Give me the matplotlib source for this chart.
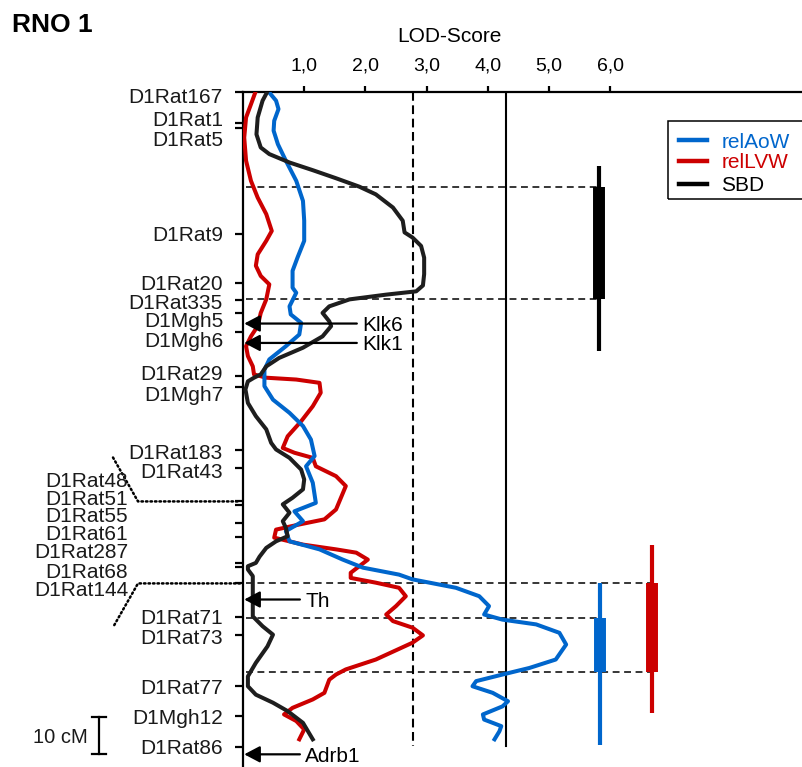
import matplotlib
matplotlib.use("Agg")
import matplotlib.pyplot as plt
import matplotlib.transforms as mtransforms
from matplotlib.patches import Rectangle
from matplotlib.lines import Line2D

plt.rcParams['font.family'] = ['Liberation Sans', 'DejaVu Sans']

# ---------------------------------------------------------------- data
# genetic map of RNO 1 (marker positions in cM)
markers = ["D1Rat167", "D1Rat1", "D1Rat5", "D1Rat9", "D1Rat20", "D1Rat335",
           "D1Mgh5", "D1Mgh6", "D1Rat29", "D1Mgh7", "D1Rat183", "D1Rat43",
           "D1Rat48", "D1Rat51", "D1Rat55", "D1Rat61", "D1Rat287", "D1Rat68",
           "D1Rat144", "D1Rat71", "D1Rat73", "D1Rat77", "D1Mgh12", "D1Rat86"]
marker_cM = [0.0, 8.5, 10.1, 38.9, 52.2, 57.1, 60.5, 65.7, 77.7, 80.8, 98.0,
             103.0, 112.0, 113.1, 118.0, 121.6, 128.7, 129.8, 134.4, 143.5,
             148.6, 162.3, 170.5, 179.2]

# candidate genes
genes = ["Klk6", "Klk1", "Th", "Adrb1"]
gene_cM = [63.4, 68.7, 138.8, 181.1]

# LOD profiles
sbd_cM = [0.3, 2.5, 7.1, 11.7, 15.3, 17.1, 19.4, 21.5, 23.7, 26.0, 28.1, 31.7,
          35.3, 38.5, 39.9, 42.2, 45.4, 49.9, 53.0, 54.6, 55.5, 56.8, 58.7,
          60.5, 62.8, 64.1, 66.9, 70.0, 72.8, 75.1, 77.3, 78.2, 79.2, 81.4,
          85.1, 88.7, 92.3, 96.0, 97.8, 100.1, 103.3, 106.0, 108.7, 111.0,
          112.8, 115.1, 117.4, 119.2, 121.5, 122.9, 124.7, 127.1, 128.8,
          129.7, 130.6, 132.4, 143.4, 146.1, 148.4, 151.6, 156.1, 159.8,
          162.5, 164.8, 167.0, 169.3, 172.5, 177.0]
sbd_lod = [0.39, 0.32, 0.24, 0.22, 0.29, 0.43, 0.76, 1.14, 1.52, 1.90, 2.17,
           2.45, 2.61, 2.64, 2.77, 2.91, 2.96, 2.96, 2.94, 2.83, 2.34, 1.74,
           1.41, 1.30, 1.41, 1.44, 1.30, 0.98, 0.59, 0.38, 0.29, 0.18, 0.08,
           0.04, 0.08, 0.21, 0.38, 0.46, 0.54, 0.76, 0.95, 1.00, 0.98, 0.81,
           0.65, 0.76, 0.65, 0.70, 0.73, 0.54, 0.38, 0.27, 0.21, 0.08, 0.08,
           0.16, 0.16, 0.32, 0.49, 0.40, 0.21, 0.08, 0.08, 0.21, 0.49, 0.73,
           0.98, 1.14]

aow_cM = [0.3, 2.5, 4.8, 8.0, 10.7, 14.4, 18.9, 24.4, 29.9, 35.3, 40.8, 45.4,
          49.0, 53.6, 55.0, 58.7, 60.9, 63.2, 66.4, 69.6, 73.2, 76.0, 80.5,
          84.2, 87.8, 91.4, 95.1, 99.6, 102.4, 106.9, 112.4, 114.7, 117.4,
          120.1, 122.9, 125.1, 127.9, 130.1, 132.0, 133.3, 135.6, 137.9,
          140.6, 142.9, 144.3, 145.6, 147.9, 151.1, 155.2, 157.5, 159.3,
          161.1, 162.5, 164.3, 166.6, 168.0, 170.2, 171.6, 173.4, 174.8, 177.0]
aow_lod = [0.43, 0.54, 0.58, 0.51, 0.50, 0.57, 0.70, 0.87, 0.98, 1.00, 1.00,
           0.89, 0.81, 0.81, 0.87, 0.76, 0.78, 0.95, 0.92, 0.70, 0.43, 0.35,
           0.35, 0.49, 0.76, 0.98, 1.11, 1.17, 1.03, 1.14, 1.19, 0.84, 0.98,
           0.70, 0.76, 1.25, 1.63, 1.96, 2.55, 2.77, 3.48, 3.86, 4.02, 3.94,
           4.24, 4.79, 5.17, 5.28, 5.11, 4.68, 4.24, 3.81, 3.75, 4.08, 4.33,
           4.24, 3.92, 3.94, 4.22, 4.19, 4.11]

lvw_cM = [0.3, 3.5, 7.1, 12.6, 18.9, 24.4, 29.0, 33.5, 38.1, 40.8, 44.5, 47.6,
          50.4, 52.7, 56.8, 60.5, 64.1, 66.9, 69.6, 72.3, 75.1, 77.3, 78.2,
          78.7, 79.6, 82.3, 86.0, 90.1, 94.2, 97.4, 98.7, 100.1, 102.4, 105.1,
          107.8, 111.0, 114.2, 116.9, 118.3, 119.7, 121.9, 123.8, 125.1,
          126.0, 127.9, 129.7, 131.5, 132.9, 134.2, 135.6, 137.9, 140.6,
          142.9, 144.7, 146.5, 148.6, 150.6, 155.2, 157.9, 159.3, 160.7,
          164.3, 166.1, 168.4, 170.2, 172.0, 174.3, 177.0]
lvw_lod = [0.20, 0.13, 0.05, 0.02, 0.05, 0.13, 0.24, 0.38, 0.47, 0.38, 0.24,
           0.21, 0.29, 0.43, 0.38, 0.29, 0.24, 0.13, 0.05, 0.08, 0.16, 0.18,
           0.38, 0.87, 1.25, 1.27, 1.14, 0.95, 0.73, 0.65, 0.84, 1.14, 1.19,
           1.52, 1.68, 1.60, 1.52, 1.33, 0.92, 0.54, 0.51, 0.98, 1.52, 1.85,
           2.04, 1.90, 1.76, 1.76, 2.17, 2.55, 2.66, 2.50, 2.34, 2.45, 2.77,
           2.94, 2.77, 2.17, 1.68, 1.52, 1.41, 1.33, 1.14, 0.81, 0.67, 0.87,
           1.00, 0.92]

# significance thresholds
lod_suggestive = 2.78
lod_significant = 4.29

# QTL confidence intervals (cM): outer (thin) and inner (thick)
sbd_outer, sbd_inner = (20.4, 71.0), (26.0, 56.8)
aow_outer, aow_inner = (134.2, 178.6), (143.8, 158.6)
lvw_outer, lvw_inner = (124.0, 169.8), (134.2, 158.6)

# ---------------------------------------------------------------- style
W, H = 802, 767
BLUE, RED, BLACK = "#0066cc", "#cc0000", "#1e1e1e"
PX_PER_CM = 3.66
TOP_PX, LEFT_PX = 91.5, 243.0
PX_PER_LOD = 61.2

fig = plt.figure(figsize=(W / 100, H / 100), dpi=100)
ax = fig.add_axes([LEFT_PX / W, 0, (W - LEFT_PX) / W, (H - TOP_PX) / H])
ax.set_xlim(0, (W - LEFT_PX) / PX_PER_LOD)
ax.set_ylim((H - TOP_PX) / PX_PER_CM, 0)

for side in ("right", "bottom"):
    ax.spines[side].set_visible(False)
for side in ("left", "top"):
    ax.spines[side].set_linewidth(1.6)
    ax.spines[side].set_color("black")

ax.xaxis.tick_top()
ax.set_xticks([1, 2, 3, 4, 5, 6])
ax.set_xticklabels(["1,0", "2,0", "3,0", "4,0", "5,0", "6,0"])
ax.tick_params(axis="x", direction="out", length=4, width=1.6, pad=8,
               labelsize=14)
ax.set_yticks(marker_cM)
ax.tick_params(axis="y", direction="out", length=6, width=1.6,
               labelleft=False)

# marker labels, spread out where markers are dense
label_cM = [1.0, 7.4, 12.8, 38.8, 52.3, 57.3, 62.3, 67.8, 76.9, 82.4, 98.3,
            103.5, 106.0, 110.8, 115.6, 120.6, 125.4, 130.8, 135.8, 143.5,
            149.0, 162.5, 170.8, 179.0]
blend = mtransforms.blended_transform_factory(ax.transAxes, ax.transData)
axw = W - LEFT_PX
for i, (name, ly) in enumerate(zip(markers, label_cM)):
    xr = 128 if 12 <= i <= 18 else 223
    ax.text((xr - LEFT_PX) / axw, ly, name, transform=blend, ha="right",
            va="center_baseline", fontsize=15, color="#1a1a1a", clip_on=False)

# dotted brackets tying the spread labels to the map
dot_kw = dict(transform=blend, color="black", lw=1.8, ls=(0, (0.6, 1.2)),
              clip_on=False, dash_capstyle="round")
ax.plot([(113 - LEFT_PX) / axw, (138 - LEFT_PX) / axw, (240 - LEFT_PX) / axw],
        [100.0, marker_cM[12], marker_cM[12]], **dot_kw)
ax.plot([(240 - LEFT_PX) / axw, (138 - LEFT_PX) / axw, (113 - LEFT_PX) / axw],
        [marker_cM[18], marker_cM[18], 146.4], **dot_kw)

# thresholds
ax.plot([lod_suggestive, lod_suggestive], [0, 178.7], color="black", lw=1.5,
        ls=(0, (4.2, 2.2)))
ax.plot([lod_significant, lod_significant], [0, 178.9], color="black",
        lw=1.5)

# confidence interval guides and bars
x_sbd, x_aow, x_lvw = 5.82, 5.84, 6.68
hd = dict(color="black", lw=1.1, ls=(0, (4.5, 3.0)))
for y, xe in [(sbd_inner[0], x_sbd), (sbd_inner[1], x_sbd),
              (lvw_inner[0], x_lvw), (aow_inner[0], x_aow),
              (lvw_inner[1], x_lvw)]:
    ax.plot([0.05, xe], [y, y], **hd)

for xb, outer, inner, c in [(x_sbd, sbd_outer, sbd_inner, "black"),
                            (x_aow, aow_outer, aow_inner, BLUE),
                            (x_lvw, lvw_outer, lvw_inner, RED)]:
    ax.plot([xb, xb], outer, color=c, lw=3.0, solid_capstyle="butt")
    ax.plot([xb, xb], inner, color=c, lw=8.6, solid_capstyle="butt")

# LOD curves
ax.plot(lvw_lod, lvw_cM, color=RED, lw=2.9, solid_joinstyle="round",
        zorder=3)
ax.plot(aow_lod, aow_cM, color=BLUE, lw=2.9, solid_joinstyle="round",
        zorder=4)
ax.plot(sbd_lod, sbd_cM, color=BLACK, lw=2.9, solid_joinstyle="round",
        zorder=5)

# candidate gene arrows
gene_tail = [1.86, 1.86, 0.93, 0.93]
for name, gy, gx in zip(genes, gene_cM, gene_tail):
    ax.annotate("", xy=(0.02, gy), xytext=(gx, gy),
                arrowprops=dict(arrowstyle="-|>,head_length=0.95,head_width=0.5",
                                mutation_scale=10, lw=1.6, color="black",
                                shrinkA=0, shrinkB=0),
                annotation_clip=False, zorder=6)
    ax.text(gx + 0.09, gy, name, ha="left", va="center_baseline",
            fontsize=15, color="black", clip_on=False, zorder=6)

# 10 cM scale bar
sx = (99 - LEFT_PX) / axw
cap = 7 / axw
ax.plot([sx, sx], [171.0, 181.0], transform=blend, color="black", lw=1.6,
        clip_on=False)
for y in (171.0, 181.0):
    ax.plot([sx - cap, sx + cap], [y, y], transform=blend, color="black",
            lw=1.6, clip_on=False)
ax.text((88 - LEFT_PX) / axw, 176.0, "10 cM", transform=blend, ha="right",
        va="center_baseline", fontsize=14.5, color="#1a1a1a", clip_on=False)

# titles
fig.text(12 / W, 1 - 23 / H, "RNO 1", ha="left", va="center_baseline",
         fontsize=19, fontweight="bold")
fig.text(449.7 / W, 1 - 34.7 / H, "LOD-Score", ha="center",
         va="center_baseline", fontsize=15)

# legend box
fig.patches.append(Rectangle((667.5 / W, 1 - 199 / H), 0.2, 77.5 / H,
                             transform=fig.transFigure, fill=False,
                             edgecolor="black", lw=1.1))
for label, c, yy, tc in [("relAoW", BLUE, 140, BLUE), ("relLVW", RED, 161, RED),
                         ("SBD", "black", 183.5, "black")]:
    fig.lines.append(Line2D([679 / W, 707 / W], [1 - yy / H, 1 - yy / H],
                            transform=fig.transFigure, color=c, lw=3.2))
    fig.text(721.5 / W, 1 - yy / H, label, ha="left", va="center_baseline",
             fontsize=15, color=tc)

fig.savefig("out.png", dpi=100)
